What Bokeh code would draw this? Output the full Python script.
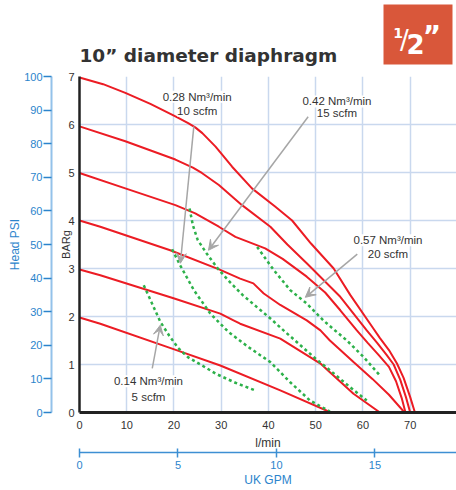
from bokeh.plotting import figure
from bokeh.models import Range1d, LinearAxis, FixedTicker, Label, Arrow, VeeHead
from bokeh.layouts import column
from bokeh.embed import file_html
from bokeh.resources import INLINE
from bokeh.core.properties import value

# ---------------- data ----------------
TITLE = "10\u201d diameter diaphragm"
X_TICKS = [0, 10, 20, 30, 40, 50, 60, 70]
Y_TICKS = [0, 1, 2, 3, 4, 5, 6, 7]
PSI_TICKS = [0, 10, 20, 30, 40, 50, 60, 70, 80, 90, 100]
GPM_TICKS = [0, 5, 10, 15]
X_MAX = 79.8
GPM_PER_LMIN = 0.2399

# discharge pressure curves (l/min, BARg) at inlet air pressure 7..2 bar
bar7_x = [0, 5, 9.7, 15, 20.3, 23, 24.5, 26, 28.8, 32.3, 36.5, 41.4, 45, 49, 53.8, 57.3, 62.2, 63.6, 65.5, 67.2, 68.6, 70, 71]
bar7_y = [6.98, 6.84, 6.66, 6.43, 6.17, 6.03, 5.94, 5.82, 5.54, 5.12, 4.67, 4.29, 4.0, 3.52, 3.0, 2.45, 1.75, 1.55, 1.3, 1.02, 0.72, 0.32, 0]
bar6_x = [0, 9.7, 20.3, 24, 25.9, 29.5, 34.4, 40.4, 44, 48.1, 55.2, 60.8, 63, 65, 66.5, 67.9, 69.1, 70]
bar6_y = [5.96, 5.65, 5.27, 5.1, 4.99, 4.74, 4.32, 3.87, 3.5, 3.11, 2.41, 1.71, 1.45, 1.2, 1.0, 0.68, 0.32, 0]
bar5_x = [0, 9.7, 20.3, 24.5, 29.5, 33, 39.3, 43, 48.1, 52, 55.2, 58.7, 61, 63.3, 65.5, 67, 68.2, 69]
bar5_y = [4.99, 4.67, 4.32, 4.15, 3.87, 3.66, 3.42, 3.2, 2.83, 2.5, 2.13, 1.71, 1.45, 1.2, 0.95, 0.65, 0.3, 0]
bar4_x = [0, 4.4, 19.2, 29.8, 34, 36.8, 39, 42.5, 48.1, 51, 53, 58, 62, 65.5, 68.8]
bar4_y = [4.0, 3.87, 3.38, 2.97, 2.79, 2.69, 2.48, 2.24, 1.92, 1.71, 1.5, 1.05, 0.7, 0.37, 0]
bar3_x = [0, 4.4, 19.9, 29.8, 32.6, 34, 42.5, 51, 53, 58, 63.6]
bar3_y = [2.98, 2.86, 2.38, 2.06, 1.92, 1.85, 1.54, 1.02, 0.84, 0.39, 0]
bar2_x = [0, 4.4, 19.9, 29.8, 42.5, 53.2]
bar2_y = [1.98, 1.85, 1.32, 0.98, 0.46, 0]

# air consumption curves
scfm5_x = [13.6, 15, 17.1, 19, 20.9, 23, 25.6, 29, 33, 37.2]
scfm5_y = [2.65, 2.35, 1.89, 1.6, 1.34, 1.15, 1.0, 0.8, 0.62, 0.46]
scfm10_x = [19.6, 21.4, 24.2, 27.7, 31.5, 35.8, 40.4, 44.6, 48.8, 53]
scfm10_y = [3.4, 3.05, 2.55, 2.06, 1.68, 1.36, 1.05, 0.63, 0.25, 0.02]
scfm15_x = [23.3, 24.0, 25, 27, 29.5, 32, 34.5, 37.5, 40.4, 43.2, 47, 50, 53, 57, 60.8]
scfm15_y = [4.25, 3.9, 3.6, 3.3, 2.97, 2.7, 2.45, 2.2, 1.96, 1.71, 1.38, 1.12, 0.88, 0.55, 0.25]
scfm20_x = [37.6, 41.1, 44.6, 48.1, 51.6, 53.6, 56.6, 60.1, 63.6]
scfm20_y = [3.45, 2.97, 2.55, 2.27, 1.92, 1.75, 1.5, 1.16, 0.77]

RED = "#ec1c24"
GREEN = "#2db14a"
BLUE = "#2b84cc"
DARK = "#333333"
GRAY = "#a6a6a6"
FONT = "Liberation Sans"

FRAME_W = 377
FRAME_H = 336
LEFT = 79
HEAD_H = 68

# ---------------- header (title + badge), frame aligned with chart frame ----------------
h = figure(frame_width=FRAME_W, frame_height=HEAD_H, x_range=Range1d(0, FRAME_W), y_range=Range1d(HEAD_H, 0),
           toolbar_location=None, output_backend="svg",
           x_axis_location=None, y_axis_location=None,
           min_border_left=LEFT, min_border_right=0, min_border_top=0, min_border_bottom=0)
h.outline_line_color = None
h.grid.visible = False
h.quad(left=[304], right=[373], top=[4], bottom=[64], fill_color="#d9573a", line_color=None)
h.text(x=[0], y=[54.5], text=[TITLE], text_font=value("DejaVu Sans"), text_font_style="bold",
       text_font_size="18.5px", text_color="#333333", text_align="left", text_baseline="middle")
h.text(x=[318.5], y=[32], text=["1"], text_font=value("DejaVu Sans"), text_font_style="bold",
       text_font_size="14px", text_color="white", text_align="center", text_baseline="middle")
h.text(x=[325], y=[39], text=["/"], text_font=value("DejaVu Sans"),
       text_font_size="26px", text_color="white", text_align="center", text_baseline="middle")
h.text(x=[336], y=[43], text=["2"], text_font=value("DejaVu Sans"), text_font_style="bold",
       text_font_size="26px", text_color="white", text_align="center", text_baseline="middle")
h.text(x=[352.5], y=[35.5], text=["\u201d"], text_font=value("DejaVu Sans"), text_font_style="bold",
       text_font_size="28px", text_color="white", text_align="center", text_baseline="middle")

# ---------------- main chart ----------------
p = figure(frame_width=FRAME_W, frame_height=FRAME_H, x_range=Range1d(0, X_MAX), y_range=Range1d(0, 7),
           toolbar_location=None, output_backend="svg",
           min_border_left=LEFT, min_border_top=8, min_border_right=0, min_border_bottom=0)
p.outline_line_color = None
p.background_fill_color = "white"
p.border_fill_color = "white"
p.extra_y_ranges = {"psi": Range1d(0, 100)}
p.extra_x_ranges = {"gpm": Range1d(0, X_MAX * GPM_PER_LMIN)}

xa = p.xaxis[0]
xa.ticker = FixedTicker(ticks=X_TICKS)
xa.axis_line_color = "#222222"
xa.axis_line_width = 3
xa.major_tick_in = 0
xa.major_tick_out = 0
xa.minor_tick_in = 0
xa.minor_tick_out = 0
xa.major_label_standoff = 8
xa.major_label_text_font = FONT
xa.major_label_text_font_size = "11px"
xa.major_label_text_color = DARK
xa.axis_label = "l/min"
xa.axis_label_text_font = FONT
xa.axis_label_text_font_style = "normal"
xa.axis_label_text_font_size = "12px"
xa.axis_label_text_color = DARK
xa.axis_label_standoff = 4

ya = p.yaxis[0]
ya.ticker = FixedTicker(ticks=Y_TICKS)
ya.axis_line_color = "#222222"
ya.axis_line_width = 2.5
ya.major_tick_in = 0
ya.major_tick_out = 0
ya.minor_tick_in = 0
ya.minor_tick_out = 0
ya.major_label_standoff = 5
ya.major_label_text_font = FONT
ya.major_label_text_font_size = "11px"
ya.major_label_text_color = DARK
ya.axis_label = "BARg"
ya.axis_label_text_font = FONT
ya.axis_label_text_font_style = "normal"
ya.axis_label_text_font_size = "11px"
ya.axis_label_text_color = DARK
ya.axis_label_standoff = -7

# tiny spacer between the BARg axis and the PSI axis
spacer = LinearAxis(ticker=FixedTicker(ticks=[]))
spacer.axis_line_color = None
spacer.major_tick_in = 0
spacer.major_tick_out = 0
spacer.minor_tick_in = 0
spacer.minor_tick_out = 0
spacer.axis_label = "BARg"
spacer.axis_label_text_alpha = 0
spacer.axis_label_text_font_size = "3px"
spacer.axis_label_standoff = 0
p.add_layout(spacer, "left")

psi = LinearAxis(y_range_name="psi", ticker=FixedTicker(ticks=PSI_TICKS))
psi.axis_line_color = "#93c2ea"
psi.axis_line_width = 2
psi.major_tick_in = 0
psi.major_tick_out = 8
psi.major_tick_line_color = BLUE
psi.major_tick_line_width = 1.5
psi.minor_tick_out = 0
psi.minor_tick_in = 0
psi.major_label_standoff = 1
psi.major_label_text_font = FONT
psi.major_label_text_font_size = "11px"
psi.major_label_text_color = BLUE
psi.axis_label = "Head PSI"
psi.axis_label_text_font = FONT
psi.axis_label_text_font_style = "normal"
psi.axis_label_text_font_size = "12px"
psi.axis_label_text_color = BLUE
psi.axis_label_standoff = -1
p.add_layout(psi, "left")

gpm = LinearAxis(x_range_name="gpm", ticker=FixedTicker(ticks=GPM_TICKS))
gpm.axis_line_color = "#3d8fd3"
gpm.axis_line_width = 1.5
gpm.major_tick_in = 4
gpm.major_tick_out = 5
gpm.major_tick_line_color = "#3d8fd3"
gpm.major_tick_line_width = 1.5
gpm.minor_tick_out = 0
gpm.minor_tick_in = 0
gpm.major_label_standoff = 3
gpm.major_label_text_font = FONT
gpm.major_label_text_font_size = "11px"
gpm.major_label_text_color = BLUE
gpm.axis_label = "UK GPM"
gpm.axis_label_text_font = FONT
gpm.axis_label_text_font_style = "normal"
gpm.axis_label_text_font_size = "12px"
gpm.axis_label_text_color = BLUE
gpm.axis_label_standoff = 1
p.add_layout(gpm, "below")

p.xgrid.grid_line_color = "#c9d8ee"
p.xgrid.grid_line_width = 1.5
p.ygrid.grid_line_color = "#c9d8ee"
p.ygrid.grid_line_width = 1.5

for xs, ys in [(bar7_x, bar7_y), (bar6_x, bar6_y), (bar5_x, bar5_y),
               (bar4_x, bar4_y), (bar3_x, bar3_y), (bar2_x, bar2_y)]:
    p.line(xs, ys, line_color=RED, line_width=2)

for xs, ys in [(scfm5_x, scfm5_y), (scfm10_x, scfm10_y), (scfm15_x, scfm15_y), (scfm20_x, scfm20_y)]:
    p.line(xs, ys, line_color=GREEN, line_width=2.5, line_dash="3 3")

# annotation arrows
arrows = [
    (24.2, 5.96, 21.35, 3.11),
    (48.4, 6.16, 27.3, 3.38),
    (58.8, 3.30, 47.8, 2.40),
    (15.4, 0.92, 17.1, 1.82),
]
for xs0, ys0, xe, ye in arrows:
    p.add_layout(Arrow(x_start=xs0, y_start=ys0, x_end=xe, y_end=ye,
                       line_color=GRAY, line_width=1.5,
                       end=VeeHead(size=10, fill_color=GRAY, line_color=GRAY)))

notes = [
    (24.9, 6.58, "0.28 Nm\u00b3/min"), (24.9, 6.29, "10 scfm"),
    (54.5, 6.48, "0.42 Nm\u00b3/min"), (54.5, 6.23, "15 scfm"),
    (65.3, 3.59, "0.57 Nm\u00b3/min"), (65.3, 3.30, "20 scfm"),
    (14.6, 0.65, "0.14 Nm\u00b3/min"), (14.6, 0.33, "5 scfm"),
]
for nx, ny, t in notes:
    p.add_layout(Label(x=nx, y=ny, text=t, text_align="center", text_baseline="middle",
                       text_font=FONT, text_font_size="11.5px", text_color=DARK,
                       background_fill_color="white"))

layout = column(h, p, spacing=0)
open("out.html", "w").write(file_html(layout, INLINE))
